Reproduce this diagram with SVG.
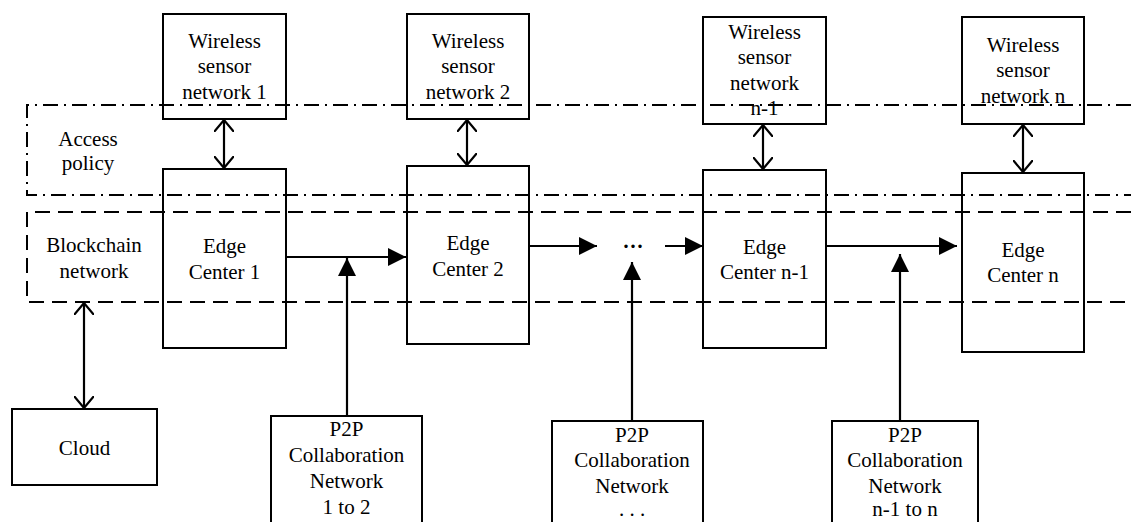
<svg xmlns="http://www.w3.org/2000/svg" width="1131" height="522" viewBox="0 0 1131 522">
<style>
.box{fill:#fff;stroke:#000;stroke-width:2}
.hol{fill:none;stroke:#000;stroke-width:2}
.t{font-family:"Times New Roman",Times,Tinos,"Liberation Serif","DejaVu Serif","Noto Serif",serif;font-size:21px;fill:#000;text-anchor:middle}
.ln{fill:none;stroke:#000;stroke-width:2.2}
.dd{fill:none;stroke:#000;stroke-width:2;stroke-dasharray:15 6 2 6}
.da{fill:none;stroke:#000;stroke-width:2;stroke-dasharray:15 8}
</style>
<defs>
<marker id="open" viewBox="0 0 12 20" refX="12" refY="10" markerWidth="12" markerHeight="20" markerUnits="userSpaceOnUse" orient="auto-start-reverse">
<path d="M0,0 L12,10 L0,20" fill="none" stroke="#000" stroke-width="2.2"/>
</marker>
<marker id="fill" viewBox="0 0 18 18" refX="18" refY="9" markerWidth="18" markerHeight="18" markerUnits="userSpaceOnUse" orient="auto">
<path d="M0,0 L18,9 L0,18 Z" fill="#000"/>
</marker>
</defs>
<rect width="1131" height="522" fill="#fff"/>

<g id="wsn1"><rect class="box" x="163" y="14" width="123" height="105"/>
<text class="t" x="224.5" y="48">Wireless</text><text class="t" x="224.5" y="73">sensor</text><text class="t" x="224.5" y="99">network 1</text></g>
<g id="wsn2"><rect class="box" x="407" y="14" width="122" height="105"/>
<text class="t" x="468" y="48">Wireless</text><text class="t" x="468" y="73">sensor</text><text class="t" x="468" y="99">network 2</text></g>
<g id="wsnn1"><rect class="box" x="703" y="17" width="123" height="107"/>
<text class="t" x="764.5" y="39">Wireless</text><text class="t" x="764.5" y="64">sensor</text><text class="t" x="764.5" y="90">network</text><text class="t" x="764.5" y="115">n-1</text></g>
<g id="wsnn"><rect class="box" x="962" y="17" width="122" height="107"/>
<text class="t" x="1023" y="52">Wireless</text><text class="t" x="1023" y="77">sensor</text><text class="t" x="1023" y="103">network n</text></g>

<g id="access-policy"><path class="dd" d="M1131,105 H27 V195 H1131"/>
<text class="t" x="88" y="146">Access</text><text class="t" x="88" y="170">policy</text></g>
<g id="blockchain-network"><path class="da" d="M1131,212 H27 V302 H1131"/>
<text class="t" x="94" y="252">Blockchain</text><text class="t" x="94" y="278">network</text></g>

<g id="ec1"><rect class="hol" x="163" y="169" width="123" height="179"/>
<text class="t" x="224.5" y="253">Edge</text><text class="t" x="224.5" y="279">Center 1</text></g>
<g id="ec2"><rect class="hol" x="407" y="166" width="122" height="178"/>
<text class="t" x="468" y="250">Edge</text><text class="t" x="468" y="276">Center 2</text></g>
<g id="ecn1"><rect class="hol" x="703" y="170" width="123" height="178"/>
<text class="t" x="764.5" y="254">Edge</text><text class="t" x="764.5" y="279">Center n-1</text></g>
<g id="ecn"><rect class="hol" x="962" y="173" width="122" height="179"/>
<text class="t" x="1023" y="257">Edge</text><text class="t" x="1023" y="282">Center n</text></g>

<g id="dots"><text class="t" x="633" y="253" style="font-weight:bold">···</text></g>

<g id="cloud"><rect class="box" x="12" y="409" width="145" height="76"/>
<text class="t" x="84.5" y="455">Cloud</text></g>
<g id="p2p12"><rect class="box" x="271" y="416" width="151" height="120"/>
<text class="t" x="346.5" y="436">P2P</text><text class="t" x="346.5" y="462">Collaboration</text><text class="t" x="346.5" y="488">Network</text><text class="t" x="346.5" y="514">1 to 2</text></g>
<g id="p2pdots"><rect class="box" x="552" y="421" width="151" height="115"/>
<text class="t" x="632" y="442">P2P</text><text class="t" x="632" y="467">Collaboration</text><text class="t" x="632" y="493">Network</text><text class="t" x="632" y="516">. . .</text></g>
<g id="p2pn"><rect class="box" x="832" y="421" width="146" height="115"/>
<text class="t" x="905" y="442">P2P</text><text class="t" x="905" y="467">Collaboration</text><text class="t" x="905" y="493">Network</text><text class="t" x="905" y="516">n-1 to n</text></g>

<g id="connectors">
<line class="ln" x1="224" y1="120" x2="224" y2="168" marker-start="url(#open)" marker-end="url(#open)"/>
<line class="ln" x1="467" y1="120" x2="467" y2="165" marker-start="url(#open)" marker-end="url(#open)"/>
<line class="ln" x1="763" y1="125" x2="763" y2="169" marker-start="url(#open)" marker-end="url(#open)"/>
<line class="ln" x1="1023" y1="125" x2="1023" y2="172" marker-start="url(#open)" marker-end="url(#open)"/>
<line class="ln" x1="84" y1="303" x2="84" y2="408" marker-start="url(#open)" marker-end="url(#open)"/>
<line class="ln" x1="286" y1="257" x2="406" y2="257" marker-end="url(#fill)"/>
<line class="ln" x1="529" y1="246" x2="597" y2="246" marker-end="url(#fill)"/>
<line class="ln" x1="665" y1="246" x2="703" y2="246" marker-end="url(#fill)"/>
<line class="ln" x1="826" y1="246" x2="957" y2="246" marker-end="url(#fill)"/>
<line class="ln" x1="347" y1="416" x2="347" y2="258" marker-end="url(#fill)"/>
<line class="ln" x1="632" y1="421" x2="632" y2="262" marker-end="url(#fill)"/>
<line class="ln" x1="900" y1="421" x2="900" y2="254" marker-end="url(#fill)"/>
</g>
</svg>
